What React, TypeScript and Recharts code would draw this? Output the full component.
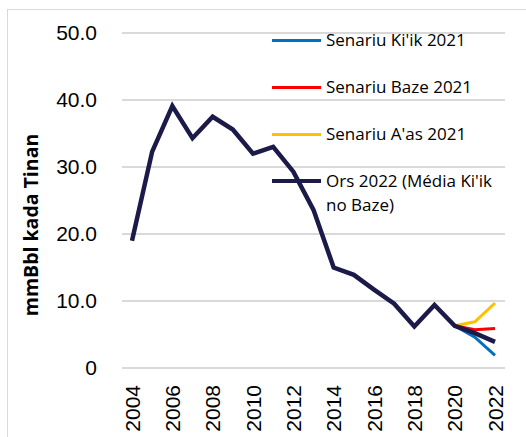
import React from 'react';
import { LineChart, Line, XAxis, YAxis, CartesianGrid } from 'recharts';

const years = ['2004', '2005', '2006', '2007', '2008', '2009', '2010', '2011', '2012', '2013', '2014', '2015', '2016', '2017', '2018', '2019', '2020', '2021', '2022'];
const actual = [19.0, 32.3, 39.1, 34.3, 37.5, 35.6, 32.0, 33.0, 29.3, 23.6, 15.0, 13.9, 11.7, 9.6, 6.2, 9.4, 6.3, 5.2, 3.9];
const low2021 = [null, null, null, null, null, null, null, null, null, null, null, null, null, null, null, null, 6.3, 4.6, 1.9];
const base2021 = [null, null, null, null, null, null, null, null, null, null, null, null, null, null, null, null, 6.3, 5.7, 5.9];
const high2021 = [null, null, null, null, null, null, null, null, null, null, null, null, null, null, null, null, 6.3, 6.9, 9.7];
const yTicks = [0, 10, 20, 30, 40, 50];

const data = years.map((y, i) => ({
  year: y,
  actual: actual[i],
  low: low2021[i],
  base: base2021[i],
  high: high2021[i],
}));

// legend order as in the picture
const legendItems = [
  { key: 'low', name: "Senariu Ki'ik 2021", color: '#0070c0', width: 3 },
  { key: 'base', name: 'Senariu Baze 2021', color: '#ff0000', width: 3 },
  { key: 'high', name: "Senariu A'as 2021", color: '#ffc000', width: 3 },
  { key: 'actual', name: "Ors 2022 (Média Ki'ik no Baze)", color: '#1b1a48', width: 4.5 },
];

const tickFont = '"Liberation Sans", Arial, sans-serif';
const textFont = '"Open Sans", "Noto Sans", sans-serif';

const YearTick = ({ x, y, payload }: any) => (
  <text
    x={0}
    y={0}
    dy="0.36em"
    textAnchor="end"
    fontSize={21}
    fontFamily={tickFont}
    fill="#000"
    transform={`translate(${x},${y}) rotate(-90)`}
  >
    {payload.value}
  </text>
);

const LegendBox = () => (
  <div style={{ position: 'absolute', left: 272, top: 28, fontFamily: textFont, fontSize: 17, color: '#000' }}>
    {legendItems.map((it) => (
      <div key={it.key} style={{ display: 'flex', alignItems: 'flex-start', height: 47 }}>
        <div style={{ width: 49, height: it.width, background: it.color, marginTop: 12 - it.width / 2, marginRight: 5, flexShrink: 0 }} />
        <div style={{ width: 185, lineHeight: '24px', marginTop: 0 }}>{it.name}</div>
      </div>
    ))}
  </div>
);

export default function App() {
  return (
    <div style={{ position: 'absolute', left: 0, top: 0, width: 526, height: 437, overflow: 'hidden', background: '#fff' }}>
      <div style={{ position: 'absolute', left: 7, top: 9, width: 560, height: 480, border: '1.5px solid #d9d9d9' }} />
      <div
        style={{
          position: 'absolute',
          left: 30,
          top: 225,
          transform: 'translate(-50%, -50%) rotate(-90deg)',
          whiteSpace: 'nowrap',
          fontFamily: textFont,
          fontWeight: 700,
          fontSize: 19.5,
          color: '#000',
        }}
      >
        mmBbl kada Tinan
      </div>
      <LineChart width={526} height={437} data={data} margin={{ top: 33, right: 21, bottom: 0, left: 0 }} style={{ position: 'absolute', left: 0, top: 0 }}>
        <CartesianGrid vertical={false} stroke="#d9d9d9" strokeWidth={2} />
        <XAxis
          dataKey="year"
          interval={1}
          padding={{ left: 10, right: 10 }}
          axisLine={false}
          tickLine={false}
          tickSize={0}
          tickMargin={17}
          height={69}
          tick={<YearTick />}
        />
        <YAxis
          domain={[0, 50]}
          ticks={yTicks}
          width={122}
          axisLine={false}
          tickLine={false}
          tickSize={0}
          tickMargin={25}
          tickFormatter={(v: number) => (v === 0 ? '0' : v.toFixed(1))}
          tick={{ fontSize: 21, fontFamily: tickFont, fill: '#000' }}
        />
        <Line dataKey="high" name="Senariu A'as 2021" stroke="#ffc000" strokeWidth={3} dot={false} isAnimationActive={false} />
        <Line dataKey="base" name="Senariu Baze 2021" stroke="#ff0000" strokeWidth={3} dot={false} isAnimationActive={false} />
        <Line dataKey="low" name="Senariu Ki'ik 2021" stroke="#0070c0" strokeWidth={3} dot={false} isAnimationActive={false} />
        <Line dataKey="actual" name="Ors 2022 (Média Ki'ik no Baze)" stroke="#1b1a48" strokeWidth={4.5} dot={false} isAnimationActive={false} />
      </LineChart>
      <LegendBox />
    </div>
  );
}
